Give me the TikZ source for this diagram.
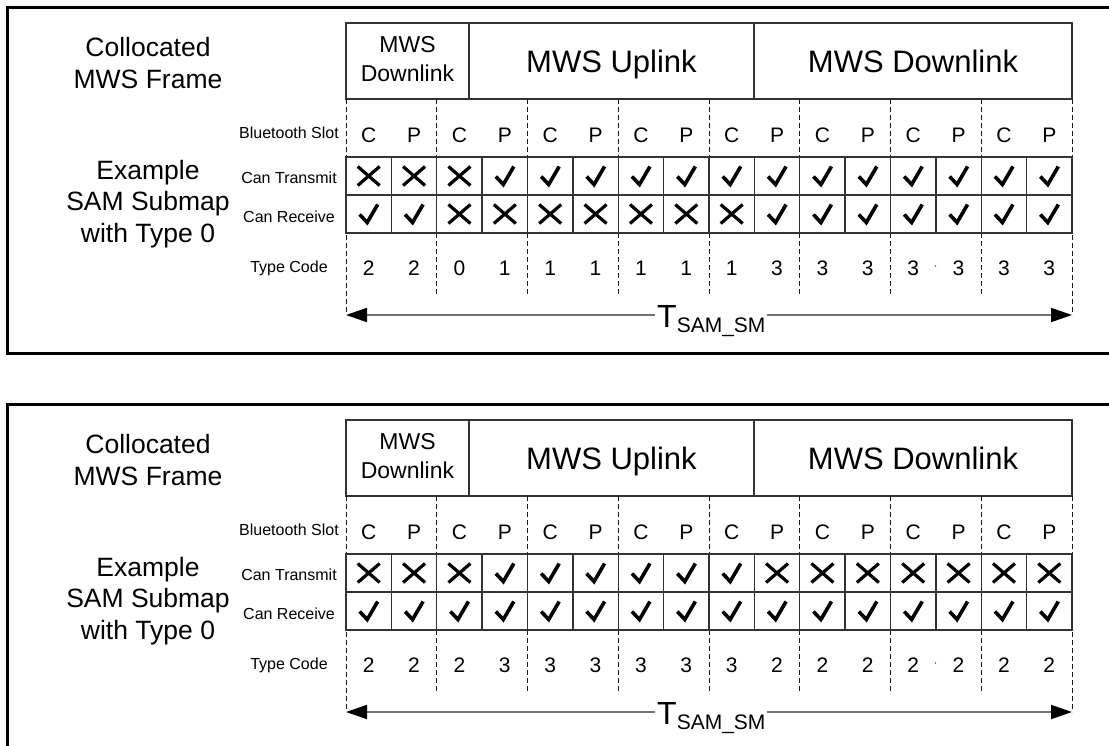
\documentclass[tikz,border=0pt]{standalone}
\usepackage{fontspec}
\setmainfont{Liberation Sans}
\usetikzlibrary{arrows.meta}
\tikzset{
  panelframe/.style={draw=black,line width=3pt},
  hdrbox/.style={draw=black!80,line width=1.3pt,minimum height=76pt,inner sep=0pt,outer sep=0pt},
  cellbox/.style={draw=black!80,line width=1.3pt,minimum width=45.375pt,minimum height=38pt,inner sep=0pt,outer sep=0pt},
  slotdash/.style={draw=black!90,line width=0.9pt,dash pattern=on 5pt off 3pt},
  marksym/.style={draw=black,line width=3.6pt,line cap=butt,line join=miter},
  checkmk/.pic={\draw[marksym] (-9,0.5) -- (-1.5,8.5) -- (9,-9.5);},
  crossmk/.pic={\draw[marksym,line width=3.2pt] (-11,-9.5) -- (11,9.5) (-11,9.5) -- (11,-9.5);},
  titletext/.style={font=\fontsize{26.5}{31.5}\selectfont,align=center,inner sep=0pt},
  rowlabel/.style={font=\fontsize{16}{16}\selectfont,inner sep=0pt,anchor=base},
  slottext/.style={font=\fontsize{21}{21}\selectfont,inner sep=0pt,anchor=base},
  bigtext/.style={font=\fontsize{31}{31}\selectfont,inner sep=0pt,anchor=base},
  smalltext/.style={font=\fontsize{23}{29}\selectfont,align=center,inner sep=0pt},
  spanarrow/.style={draw=black!55,line width=1.8pt,{Triangle[length=21pt,width=14pt,color=black]}-{Triangle[length=21pt,width=14pt,color=black]}},
  tlabel/.style={anchor=base west,fill=white,inner xsep=2pt,inner ysep=1pt},
}
\newcommand\drawpanel[6]{%
  \begin{scope}[shift={(0,#1)}]
    \draw[panelframe] (7,7) rectangle (1130,353);
    % titles
    \node[titletext] (#2-t1) at (148,63) {Collocated\\MWS Frame};
    \node[titletext] (#2-t2) at (148,204) {Example\\SAM Submap\\with Type 0};
    % header
    \node[hdrbox,minimum width=123pt] (#2-h1) at (407.5,61) {};
    \node[hdrbox,minimum width=285pt] (#2-h2) at (611.5,61) {};
    \node[hdrbox,minimum width=318pt] (#2-h3) at (913,61) {};
    \node[smalltext] (#2-h1t) at (407.5,59.3) {MWS\\Downlink};
    \node[bigtext] (#2-h2t) at (611.5,72) {MWS Uplink};
    \node[bigtext] (#2-h3t) at (913,72) {MWS Downlink};
    % row labels
    \node[rowlabel] (#2-lbs) at (289,138) {Bluetooth Slot};
    \node[rowlabel] (#2-ltx) at (289,183) {Can Transmit};
    \node[rowlabel] (#2-lrx) at (289,222) {Can Receive};
    \node[rowlabel] (#2-ltc) at (289,272) {Type Code};
    % dashed slot separators
    \foreach \j in {1,...,7}{
      \draw[slotdash] ({346+90.75*\j},99) -- ({346+90.75*\j},157);
      \draw[slotdash] ({346+90.75*\j},233) -- ({346+90.75*\j},295);
    }
    \draw[slotdash] (346,99) -- (346,315);
    \draw[slotdash] (1072,99) -- (1072,315);
    % slots
    \foreach \s [count=\i] in {C,P,C,P,C,P,C,P,C,P,C,P,C,P,C,P}{
      \node[slottext] (#2-s\i) at ({346+45.375*(\i-0.5)},142) {\s};
    }
    \foreach \m [count=\i] in {#3}{
      \node[cellbox] (#2-tx\i) at ({346+45.375*(\i-0.5)},176) {};
      \ifnum\m=1 \pic at (#2-tx\i.center) {checkmk};\else \pic at (#2-tx\i.center) {crossmk};\fi
    }
    \foreach \m [count=\i] in {#4}{
      \node[cellbox] (#2-rx\i) at ({346+45.375*(\i-0.5)},214) {};
      \ifnum\m=1 \pic at (#2-rx\i.center) {checkmk};\else \pic at (#2-rx\i.center) {crossmk};\fi
    }
    \foreach \c [count=\i] in {#5}{
      \node[slottext] (#2-c\i) at ({346+45.375*(\i-0.5)},275) {\c};
    }
    \fill[black!60] (935.5,266) circle (0.8);
    % span arrow
    \coordinate (#2-L) at (346,315);
    \coordinate (#2-R) at (1072,315);
    \draw[spanarrow] (#2-L) -- (#2-R);
    \node[tlabel] (#2-T) at (655,327) {\fontsize{32}{32}\selectfont T\raisebox{-5pt}{\fontsize{21}{21}\selectfont SAM\_SM}};
  \end{scope}
}
\begin{document}
\begin{tikzpicture}[x=1pt,y=-1pt]
  \clip (0,0) rectangle (1109,745);
  \fill[white] (0,0) rectangle (1109,745);
  \drawpanel{0}{a}{0,0,0,1,1,1,1,1,1,1,1,1,1,1,1,1}{1,1,0,0,0,0,0,0,0,1,1,1,1,1,1,1}{2,2,0,1,1,1,1,1,1,3,3,3,3,3,3,3}{}
  \drawpanel{397}{b}{0,0,0,1,1,1,1,1,1,0,0,0,0,0,0,0}{1,1,1,1,1,1,1,1,1,1,1,1,1,1,1,1}{2,2,2,3,3,3,3,3,3,2,2,2,2,2,2,2}{}
\end{tikzpicture}
\end{document}
